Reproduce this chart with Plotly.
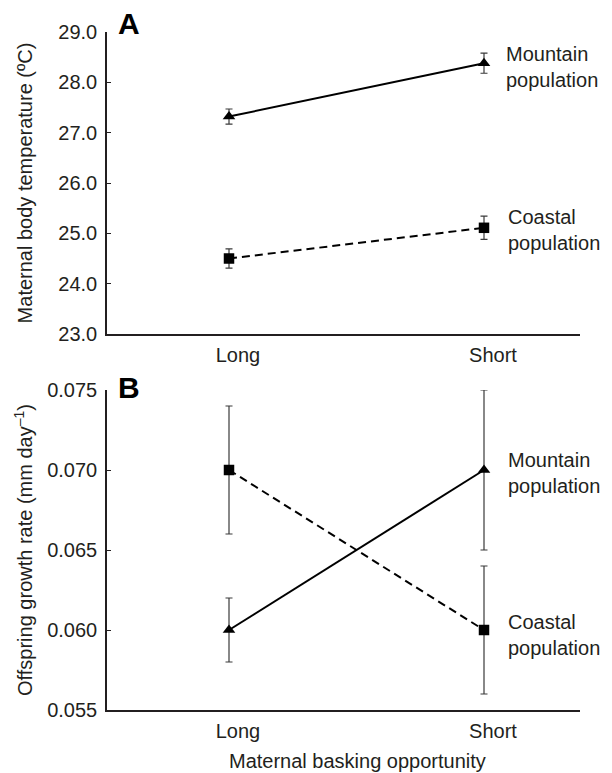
import plotly.graph_objects as go

categories = ["Long", "Short"]

# Panel A: maternal body temperature (°C)
temp_mountain = [27.32, 28.38]
temp_mountain_err = [0.15, 0.20]
temp_coastal = [24.50, 25.11]
temp_coastal_err = [0.19, 0.23]

# Panel B: offspring growth rate (mm day^-1)
growth_mountain = [0.060, 0.070]
growth_mountain_err = [0.002, 0.005]
growth_coastal = [0.070, 0.060]
growth_coastal_err = [0.004, 0.004]

tempA_ticks = [23.0, 24.0, 25.0, 26.0, 27.0, 28.0, 29.0]
growthB_ticks = [0.055, 0.060, 0.065, 0.070, 0.075]

W, H = 612, 773
FONT = "Liberation Sans, Arial, sans-serif"
TXT = "#231f20"
FS = 20

def px_x(x):
    return x / W

def px_y(y):
    return 1 - y / H

fig = go.Figure()

def add_series(y, err, xaxis, yaxis, symbol, size, dash):
    fig.add_trace(go.Scatter(
        x=categories, y=y, xaxis=xaxis, yaxis=yaxis,
        mode="lines+markers",
        line=dict(color="black", width=2, dash=dash),
        marker=dict(symbol=symbol, size=size, color="black"),
        error_y=dict(type="data", array=err, visible=True,
                     color="#3a3a3a", thickness=1.2, width=3.5),
        showlegend=False, hoverinfo="skip",
    ))

add_series(temp_mountain, temp_mountain_err, "x", "y", "triangle-up", 11, "solid")
add_series(temp_coastal, temp_coastal_err, "x", "y", "square", 10.5, "8px,5px")
add_series(growth_mountain, growth_mountain_err, "x2", "y2", "triangle-up", 11, "solid")
add_series(growth_coastal, growth_coastal_err, "x2", "y2", "square", 10.5, "8px,5px")

# x range so that Long sits at 229 px and Short at 484 px
x0, x1 = 107, 580
xl, xs = 229, 484
unit = xs - xl
xrange = [(x0 - xl) / unit, (x1 - xl) / unit]

tickfont = dict(family=FONT, size=FS, color=TXT)
common_x = dict(
    type="category", range=xrange, showline=True, linecolor="#231f20",
    linewidth=1.5, ticks="", showgrid=False, zeroline=False,
    tickfont=tickfont, ticklabelshift=9, ticklabelstandoff=2,
    automargin=False,
)
common_y = dict(
    showline=True, linecolor="#231f20", linewidth=1.5, ticks="inside",
    ticklen=4, tickcolor="#231f20", showgrid=False, zeroline=False,
    tickfont=tickfont, ticklabelstandoff=4, automargin=False,
)

fig.update_layout(
    width=W, height=H,
    margin=dict(l=0, r=0, t=0, b=0, pad=0),
    paper_bgcolor="white", plot_bgcolor="white",
    font=dict(family=FONT, color=TXT),
    xaxis=dict(common_x, domain=[px_x(x0), px_x(x1)], anchor="y"),
    yaxis=dict(common_y, domain=[px_y(334), px_y(32)], anchor="x",
               range=[23.0, 29.0], tickvals=tempA_ticks,
               ticktext=[f"{v:.1f}" for v in tempA_ticks],
               title=dict(text="Maternal body temperature (ºC)",
                          font=dict(family=FONT, size=FS, color=TXT), standoff=20)),
    xaxis2=dict(common_x, domain=[px_x(x0), px_x(x1)], anchor="y2"),
    yaxis2=dict(common_y, domain=[px_y(710), px_y(390)], anchor="x2",
                range=[0.055, 0.075], tickvals=growthB_ticks,
                ticktext=[f"{v:.3f}" for v in growthB_ticks],
                title=dict(text="Offspring growth rate (mm day<sup>–1</sup>)",
                           font=dict(family=FONT, size=FS, color=TXT), standoff=9)),
)

ann_font = dict(family=FONT, size=FS, color=TXT)
annotations = [
    dict(text="<b>A</b>", x=px_x(116), y=px_y(5), xanchor="left", yanchor="top",
         font=dict(family=FONT, size=30, color="black")),
    dict(text="<b>B</b>", x=px_x(116), y=px_y(369), xanchor="left", yanchor="top",
         font=dict(family=FONT, size=30, color="black")),
    dict(text="Mountain<br>population", x=px_x(504), y=px_y(67), xanchor="left",
         yanchor="middle", align="left", font=ann_font),
    dict(text="Coastal<br>population", x=px_x(506), y=px_y(230), xanchor="left",
         yanchor="middle", align="left", font=ann_font),
    dict(text="Mountain<br>population", x=px_x(506), y=px_y(473), xanchor="left",
         yanchor="middle", align="left", font=ann_font),
    dict(text="Coastal<br>population", x=px_x(506), y=px_y(635), xanchor="left",
         yanchor="middle", align="left", font=ann_font),
    dict(text="Maternal basking opportunity", x=px_x(357), y=px_y(761),
         xanchor="center", yanchor="middle", font=ann_font),
]
for a in annotations:
    a.update(xref="paper", yref="paper", showarrow=False)
fig.update_layout(annotations=annotations)

fig.write_html("out.html", config={"displayModeBar": False},
               post_script="document.body.style.margin='0';document.body.style.padding='0';")
